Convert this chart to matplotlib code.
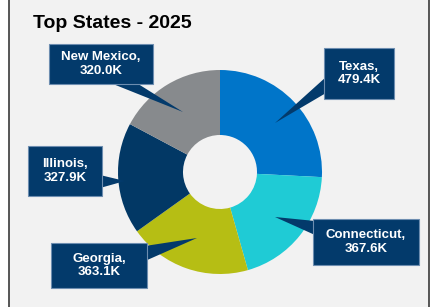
import matplotlib

matplotlib.use("Agg")
import matplotlib.pyplot as plt
from matplotlib.patches import Rectangle, Polygon

# data
states = ["Texas", "Connecticut", "Georgia", "Illinois", "New Mexico"]
values = [479.4, 367.6, 363.1, 327.9, 320.0]  # thousands
colors = ["#0075c9", "#1fcbd5", "#b6be14", "#023865", "#878a8d"]

# callout layout in pixels (x0, y0, x1, y1), wedge base + tip
boxes = {
    "Texas": (324, 48, 394, 99),
    "Connecticut": (313, 219, 419, 265),
    "Georgia": (51, 243, 147, 288),
    "Illinois": (28, 146, 102, 196),
    "New Mexico": (49, 44, 153, 84),
}
wedges = {
    "Texas": [(326, 77), (326, 93), (275, 123)],
    "Connecticut": [(315, 221), (315, 235), (275, 217)],
    "Georgia": [(145, 246), (145, 261), (197, 238)],
    "Illinois": [(100, 175), (100, 188), (125, 181)],
    "New Mexico": [(108, 82), (135, 82), (183, 112)],
}

W, H = 431, 307
plt.rcParams["font.family"] = ["Liberation Sans", "DejaVu Sans"]
fig = plt.figure(figsize=(W / 100, H / 100), dpi=100)
fig.patch.set_facecolor("white")

# background panel
bg = fig.add_axes([0, 0, 1, 1])
bg.set_xlim(0, W)
bg.set_ylim(H, 0)
bg.axis("off")
bg.add_patch(Rectangle((9.5, -5), 420, H + 10, fc="#f2f2f2", ec="none"))
bg.plot([9.5, 9.5], [0, H], color="#3a3a3a", lw=1.2)
bg.plot([429.5, 429.5], [0, H], color="#3a3a3a", lw=1.2)
bg.text(33, 23, "Top States - 2025", fontsize=14, fontweight="bold",
        color="black", va="center", ha="left")

# donut
cx, cy, r, r_in = 220, 172, 102, 37
pax = fig.add_axes([(cx - r) / W, (H - cy - r) / H, 2 * r / W, 2 * r / H])
pax.pie(values, colors=colors, startangle=90, counterclock=False,
        wedgeprops=dict(width=1 - r_in / r, edgecolor="none", linewidth=0))
pax.set_xlim(-1, 1)
pax.set_ylim(-1, 1)
pax.axis("off")

# callouts
ov = fig.add_axes([0, 0, 1, 1])
ov.set_xlim(0, W)
ov.set_ylim(H, 0)
ov.axis("off")
for name, val in zip(states, values):
    x0, y0, x1, y1 = boxes[name]
    ov.add_patch(Polygon(wedges[name], closed=True, fc="#033a6b", ec="none"))
    ov.add_patch(Rectangle((x0, y0), x1 - x0, y1 - y0, fc="#033a6b",
                           ec="#6d8db0", lw=0.8))
    ov.text((x0 + x1) / 2, (y0 + y1) / 2, f"{name},\n{val:.1f}K",
            color="white", fontsize=9.5, fontweight="bold",
            ha="center", va="center", linespacing=1.15)

fig.savefig("out.png", dpi=100, facecolor=fig.get_facecolor())
